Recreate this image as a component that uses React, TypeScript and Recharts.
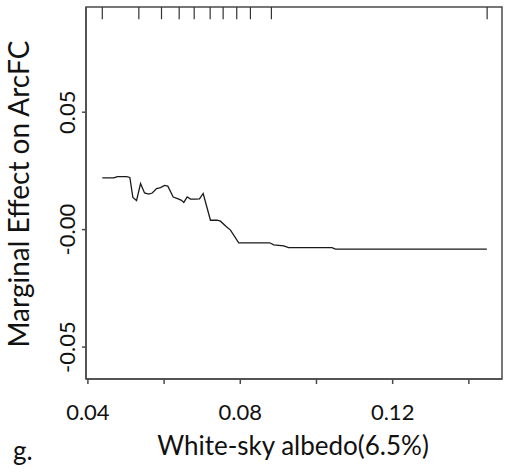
import React from "react";
import {
  LineChart,
  Line,
  XAxis,
  YAxis,
  ReferenceLine,
  ReferenceArea,
  Label
} from "recharts";

// partial dependence of ArcFC on white-sky albedo
const albedo = [
  0.04378, 0.04682, 0.04771, 0.05015, 0.05101, 0.0518, 0.05277, 0.05382,
  0.05487, 0.05599, 0.05689, 0.05802, 0.05906, 0.06011, 0.06098, 0.06239,
  0.0637, 0.06457, 0.06517, 0.06606, 0.06693, 0.06824, 0.06929, 0.07026,
  0.07217, 0.07393, 0.07479, 0.07637, 0.07742, 0.07959, 0.08772, 0.08877,
  0.09139, 0.0927, 0.10408, 0.10495, 0.14472
];
const effect = [
  0.022, 0.022, 0.0226, 0.0226, 0.0222, 0.0137, 0.0124, 0.0196,
  0.0156, 0.0151, 0.0156, 0.0175, 0.0179, 0.0188, 0.0185, 0.0139,
  0.0131, 0.0125, 0.0116, 0.0139, 0.013, 0.013, 0.0131, 0.0154,
  0.004, 0.004, 0.0036, 0.0012, -0.0002, -0.0056, -0.0056, -0.0065,
  -0.0069, -0.0077, -0.0077, -0.0083, -0.0083
];
// deciles of the predictor (rug marks on top)
const rugValues = [
  0.04378, 0.05337, 0.05932, 0.06396, 0.0679, 0.07209, 0.0755, 0.07907,
  0.08266, 0.08817, 0.1448
];
const xTicks = [0.04, 0.06, 0.08, 0.1, 0.12, 0.14];
const xTickLabels = ["0.04", "", "0.08", "", "0.12", ""];
const yTicks = [-0.05, 0, 0.05];
const yTickLabels = ["-0.05", "-0.00", "0.05"];

const X_DOMAIN = [0.0395, 0.1487];
const Y_DOMAIN = [-0.0636, 0.0948];

const data = albedo.map((x, i) => ({ x, y: effect[i] }));

const FONT = "Lato, 'Open Sans', sans-serif";
const AXIS = "#4a4a4a";

const XTick = (props: any) => {
  const { x, y, payload } = props;
  const i = xTicks.indexOf(payload.value);
  const label = i >= 0 ? xTickLabels[i] : "";
  if (!label) return null;
  return (
    <text x={x} y={y + 34} textAnchor="middle" fontFamily={FONT} fontSize={22} fill="#111">
      {label}
    </text>
  );
};

const YTick = (props: any) => {
  const { x, y, payload } = props;
  const i = yTicks.indexOf(payload.value);
  const bx = x - 4.5;
  return (
    <text
      x={bx}
      y={y}
      transform={`rotate(-90, ${bx}, ${y})`}
      textAnchor="middle"
      fontFamily={FONT}
      fontSize={22}
      fill="#111"
    >
      {i >= 0 ? yTickLabels[i] : ""}
    </text>
  );
};

export default function App() {
  return (
    <div style={{ width: 506, height: 476 }}>
      <style>{`body{margin:0}`}</style>
      <LineChart
        width={506}
        height={476}
        data={data}
        margin={{ top: 7, right: 4, left: 0, bottom: 0 }}
      >
        <XAxis
          dataKey="x"
          type="number"
          domain={X_DOMAIN}
          ticks={xTicks}
          tick={<XTick />}
          tickSize={5}
          height={97}
          stroke={AXIS}
          strokeWidth={1.5}
          allowDataOverflow
        >
          <Label
            content={() => (
              <g fontFamily={FONT} fill="#111">
                <text x={293} y={455} textAnchor="middle" fontSize={26}>
                  White-sky albedo(6.5%)
                </text>
                <text x={13} y={460} fontSize={26}>
                  g.
                </text>
              </g>
            )}
          />
        </XAxis>
        <YAxis
          type="number"
          domain={Y_DOMAIN}
          ticks={yTicks}
          tick={<YTick />}
          tickSize={4}
          width={86}
          stroke={AXIS}
          strokeWidth={1.5}
          allowDataOverflow
        >
          <Label
            content={() => (
              <text
                x={29}
                y={194}
                transform="rotate(-90, 29, 194)"
                textAnchor="middle"
                fontFamily={FONT}
                fontSize={28}
                fill="#111"
              >
                Marginal Effect on ArcFC
              </text>
            )}
          />
        </YAxis>
        {/* plot frame */}
        <ReferenceArea
          x1={X_DOMAIN[0]}
          x2={X_DOMAIN[1]}
          y1={Y_DOMAIN[0]}
          y2={Y_DOMAIN[1]}
          fill="none"
          fillOpacity={0}
          stroke={AXIS}
          strokeWidth={1.5}
          strokeOpacity={1}
        />
        {rugValues.map((v, i) => (
          <ReferenceLine
            key={i}
            segment={[
              { x: v, y: Y_DOMAIN[1] },
              { x: v, y: Y_DOMAIN[1] - 0.0052 }
            ]}
            stroke="#333"
            strokeWidth={1.2}
          />
        ))}
        <Line
          dataKey="y"
          type="linear"
          stroke="#1a1a1a"
          strokeWidth={1.3}
          dot={false}
          isAnimationActive={false}
        />
      </LineChart>
    </div>
  );
}
